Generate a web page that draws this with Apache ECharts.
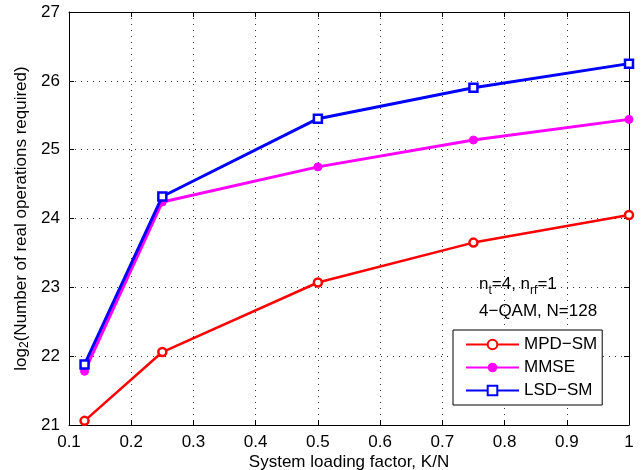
<!DOCTYPE html>
<html><head><meta charset="utf-8">
<script src="https://cdn.jsdelivr.net/npm/echarts@6/dist/echarts.min.js"></script>
<style>html,body{margin:0;padding:0;background:#fff}#c{width:641px;height:470px}</style>
</head><body><div id="c"></div>
<script>
const xValues = [0.125, 0.25, 0.5, 0.75, 1];
const mpdSM = [21.06, 22.06, 23.07, 23.65, 24.05];
const mmse = [21.78, 24.24, 24.75, 25.14, 25.44];
const lsdSM = [21.88, 24.32, 25.45, 25.90, 26.25];
const seriesNames = ['MPD\u2212SM', 'MMSE', 'LSD\u2212SM'];
const FONT = 'Liberation Sans, Arial, sans-serif';

const pair = (ys) => xValues.map((x, i) => [x, ys[i]]);
const chart = echarts.init(document.getElementById('c'));
const gridLine = {show: true, lineStyle: {color: '#333', type: [1, 5], width: 1}};
const tickIn = {show: true, inside: true, length: 5, lineStyle: {color: '#000'}};
chart.setOption({
  animation: false,
  textStyle: {fontFamily: FONT},
  grid: {left: 69, right: 12, top: 12, bottom: 45, containLabel: false, outerBoundsMode: 'none'},
  xAxis: [{
    type: 'value', min: 0.1, max: 1, interval: 0.1,
    axisLine: {show: true, onZero: false, lineStyle: {color: '#000', width: 1}},
    axisTick: tickIn, splitLine: gridLine,
    axisLabel: {color: '#000', fontSize: 17, fontFamily: FONT, margin: 9,
      formatter: v => (Math.abs(v - 1) < 1e-9 ? '1' : v.toFixed(1))},
    name: 'System loading factor, K/N', nameLocation: 'middle', nameGap: 29,
    nameMoveOverlap: false,
    nameTextStyle: {color: '#000', fontSize: 17, fontFamily: FONT}
  }, {
    type: 'value', position: 'top', min: 0.1, max: 1, interval: 0.1,
    axisLine: {show: true, onZero: false, lineStyle: {color: '#000'}},
    axisTick: tickIn, axisLabel: {show: false}, splitLine: {show: false}
  }],
  yAxis: [{
    type: 'value', min: 21, max: 27, interval: 1,
    axisLine: {show: true, onZero: false, lineStyle: {color: '#000', width: 1}},
    axisTick: tickIn, splitLine: gridLine,
    axisLabel: {color: '#000', fontSize: 17, fontFamily: FONT, margin: 9},
    name: '{a|log}{s|2}{a|(Number of real operations required)}',
    nameLocation: 'middle', nameGap: 38, nameRotate: 90, nameMoveOverlap: false,
    nameTextStyle: {color: '#000', fontFamily: FONT,
      rich: {a: {fontSize: 17, fontFamily: FONT, color: '#000'},
             s: {fontSize: 12, fontFamily: FONT, color: '#000', verticalAlign: 'bottom', padding: [8, 0, 0, 0]}}}
  }, {
    type: 'value', position: 'right', min: 21, max: 27, interval: 1,
    axisLine: {show: true, onZero: false, lineStyle: {color: '#000'}},
    axisTick: tickIn, axisLabel: {show: false}, splitLine: {show: false}
  }],
  legend: {
    orient: 'vertical', left: 453, top: 330,
    padding: [6, 5, 6, 12], itemGap: 6,
    borderColor: '#000', borderWidth: 1, backgroundColor: '#fff',
    itemWidth: 53, itemHeight: 12,
    textStyle: {fontSize: 17, color: '#000', fontFamily: FONT},
    data: seriesNames
  },
  graphic: [{
    type: 'text', left: 479, top: 276,
    style: {rich: {a: {fontSize: 17, fontFamily: FONT, fill: '#000'},
                   s: {fontSize: 12, fontFamily: FONT, fill: '#000', verticalAlign: 'top', padding: [12, 0, 0, 0]}},
      text: '{a|n}{s|t}{a|=4, n}{s|rf}{a|=1}'}
  }, {
    type: 'text', left: 479, top: 303,
    style: {text: '4\u2212QAM, N=128', fontSize: 17, fontFamily: FONT, fill: '#000'}
  }],
  series: [{
    name: seriesNames[0], type: 'line', data: pair(mpdSM),
    lineStyle: {color: '#ff0000', width: 2.5}, itemStyle: {color: '#fff', borderColor: '#ff0000', borderWidth: 2.5},
    symbol: 'circle', symbolSize: 8, z: 3
  }, {
    name: seriesNames[1], type: 'line', data: pair(mmse),
    lineStyle: {color: '#ff00ff', width: 3}, itemStyle: {color: '#ff00ff', borderColor: '#ff00ff'},
    symbol: 'circle', symbolSize: 8, z: 2
  }, {
    name: seriesNames[2], type: 'line', data: pair(lsdSM),
    lineStyle: {color: '#0000ff', width: 3}, itemStyle: {color: '#fff', borderColor: '#0000ff', borderWidth: 2.5},
    symbol: 'rect', symbolSize: 8, z: 4
  }]
});
</script></body></html>
